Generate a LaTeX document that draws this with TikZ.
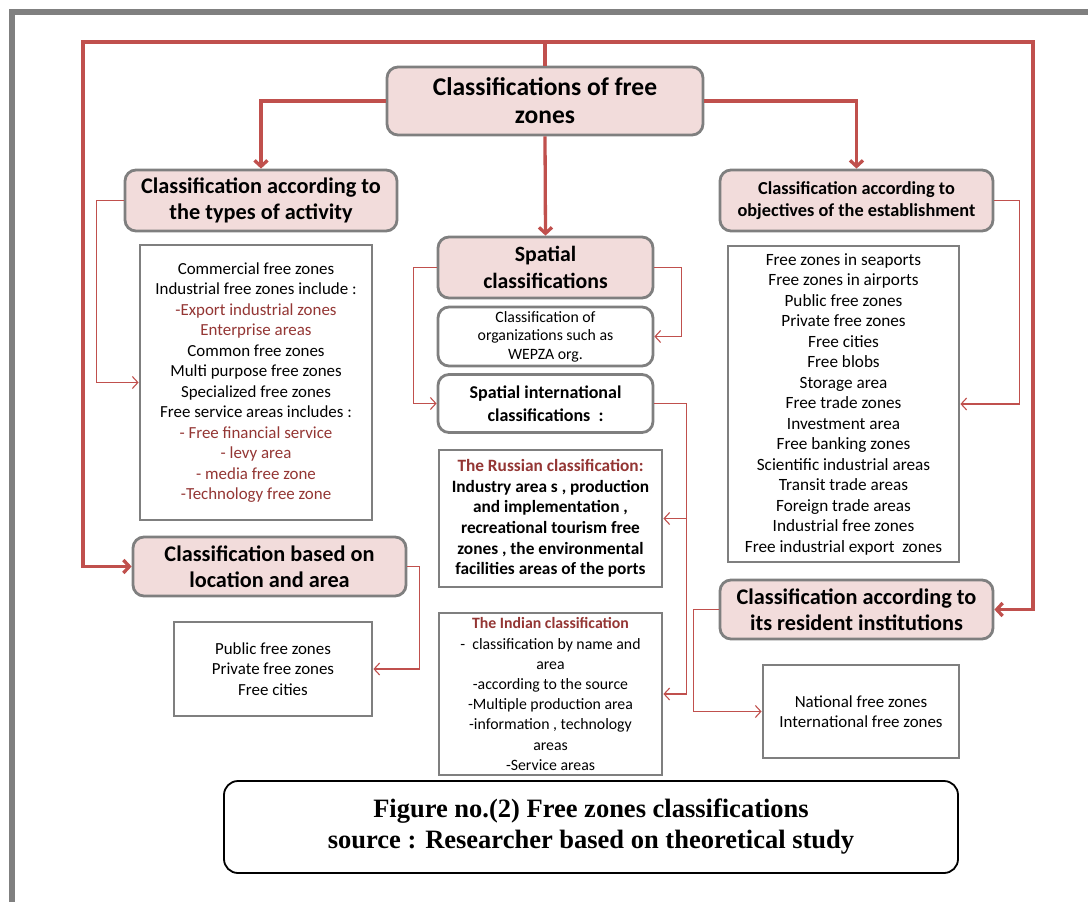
\documentclass[tikz,border=0pt]{standalone}
\usepackage{fontspec}
\setmainfont{Carlito}
\newfontfamily\capfont{Liberation Serif}
\usepackage{tikz}
\usetikzlibrary{arrows.meta}
\definecolor{boxPink}{HTML}{F2DCDB}
\definecolor{lineRed}{HTML}{C0504D}
\definecolor{textRed}{HTML}{943634}
\definecolor{edgeGray}{HTML}{7F7F7F}
\newcommand{\rd}[1]{\textcolor{textRed}{#1}}

\begin{document}
\begin{tikzpicture}[x=1pt, y=-1pt,
    headbox/.style={draw=edgeGray, line width=2.8pt, fill=boxPink, rounded corners=11pt,
        align=center, inner sep=0pt, font=\fontsize{22.3}{26}\selectfont\bfseries},
    listbox/.style={draw=edgeGray, line width=2.8pt, fill=white, align=center,
        inner sep=0pt, font=\fontsize{16.9}{20.5}\selectfont},
    subbox/.style={draw=edgeGray, line width=2.8pt, fill=white, rounded corners=11pt,
        align=center, inner sep=0pt},
    mainlink/.style={draw=lineRed, line width=3.3pt, -{Straight Barb[length=6pt,width=13pt]}},
    sidelink/.style={draw=lineRed, line width=1.1pt, -{Straight Barb[length=5.5pt,width=12pt]}}]
    \useasboundingbox (0,0) rectangle (1088,902);
    \draw[gray, line width=6pt] (11.5,910) -- (11.5,11.5) -- (1095,11.5);

    \node[headbox, font=\fontsize{25.5}{28}\selectfont\bfseries, minimum width=316pt, minimum height=68pt]
        (root) at (545,101) {Classifications of free\\zones};
    \node[headbox, minimum width=272pt, minimum height=61pt] (act) at (261,200.5)
        {Classification according to\\the types of activity};
    \node[headbox, font=\fontsize{18.3}{22}\selectfont\bfseries, minimum width=273pt, minimum height=61pt]
        (obj) at (856.5,200.5) {Classification according to\\objectives of the establishment};
    \node[headbox, font=\fontsize{21.8}{27}\selectfont\bfseries, minimum width=215pt, minimum height=61pt]
        (spat) at (545.5,267.5) {Spatial\\classifications};
    \node[headbox, minimum width=273pt, minimum height=59pt] (loc) at (269.5,566.5)
        {Classification based on\\location and area};
    \node[headbox, minimum width=273pt, minimum height=59pt] (res) at (856.5,609.5)
        {Classification according to\\its resident institutions};

    \node[subbox, font=\fontsize{15.8}{18.5}\selectfont, minimum width=215pt, minimum height=59pt]
        (wepza) at (545.5,336.5) {Classification of\\organizations such as\\WEPZA org.};
    \node[subbox, font=\fontsize{18}{23}\selectfont\bfseries, minimum width=215pt, minimum height=58pt]
        (intl) at (545.5,403.5) {Spatial international\\classifications~~:};

    \node[listbox, minimum width=232pt, minimum height=275pt] (actlist) at (256,382.5)
        {Commercial free zones\\Industrial free zones include :\\\rd{-Export industrial zones}\\
         \rd{Enterprise areas}\\Common free zones\\Multi purpose free zones\\Specialized free zones\\
         Free service areas includes :\\\rd{- Free financial service}\\\rd{- levy area}\\
         \rd{- media free zone}\\\rd{-Technology free zone}};
    \node[listbox, font=\fontsize{17.2}{20.5}\selectfont, minimum width=231pt, minimum height=316pt]
        (objlist) at (843.5,404)
        {Free zones in seaports\\Free zones in airports\\Public free zones\\Private free zones\\
         Free cities\\Free blobs\\Storage area\\Free trade zones\\Investment area\\
         Free banking zones\\Scientific industrial areas\\Transit trade areas\\
         Foreign trade areas\\Industrial free zones\\Free industrial export~ zones};
    \node[listbox, font=\fontsize{17.3}{20.6}\selectfont\bfseries, minimum width=223pt, minimum height=137pt]
        (russ) at (550.5,518.5) {\rd{The Russian classification:}\\Industry area s , production\\
         and implementation ,\\recreational tourism free\\zones , the environmental\\
         facilities areas of the ports};
    \node[listbox, font=\fontsize{15.8}{20.2}\selectfont, minimum width=223pt, minimum height=162pt]
        (ind) at (550.5,694) {\rd{\bfseries The Indian classification}\\-~~classification by name and\\
         area\\-according to the source\\-Multiple production area\\-information , technology\\
         areas\\-Service areas};
    \node[listbox, minimum width=198pt, minimum height=94pt] (pub) at (273,669)
        {Public free zones\\Private free zones\\Free cities};
    \node[listbox, minimum width=196pt, minimum height=93pt] (nat) at (861,711.5)
        {National free zones\\International free zones};

    \node[draw=black, line width=1.8pt, rounded corners=14pt, minimum width=734pt, minimum height=92pt,
        align=center, font=\capfont\fontsize{26.5}{31}\selectfont\bfseries] (cap) at (591,827)
        {Figure no.(2) Free zones classifications\\source : Researcher based on theoretical study};

    \coordinate (topL) at (83,42);
    \coordinate (topR) at (1033,42);
    \draw[mainlink] (root.north) |- (topL) |- (loc.west);
    \draw[mainlink] (root.north) |- (topR) |- (res.east);
    \draw[mainlink] (root.west) -| (act.north);
    \draw[mainlink] (root.east) -| (obj.north);
    \draw[mainlink] (root.south) -- (spat.north);

    \draw[sidelink] (act.west) -- ++(-27,0) |- (actlist.west);
    \draw[sidelink] (obj.east) -- ++(25,0) |- (objlist.east);
    \draw[sidelink] (spat.west) -- ++(-23,0) |- (intl.west);
    \draw[sidelink] (spat.east) -- ++(27,0) |- (wepza.east);
    \coordinate (ic) at ([xshift=32pt]intl.east);
    \draw[sidelink] (intl.east) -- (ic) |- (russ.east);
    \draw[sidelink] (ic) |- (ind.east);
    \draw[sidelink] (loc.east) -- ++(12,0) |- (pub.east);
    \draw[sidelink] (res.west) -- ++(-25,0) |- (nat.west);
\end{tikzpicture}
\end{document}
